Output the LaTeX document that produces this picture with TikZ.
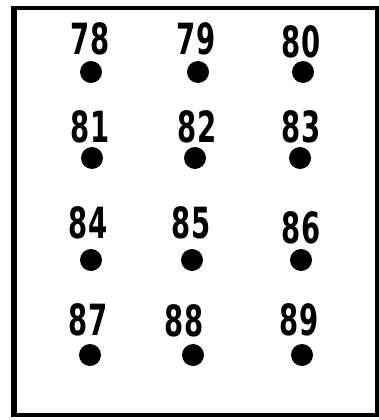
\documentclass[tikz,border=0pt]{standalone}
\usepackage{fontspec}
\setmainfont{DejaVu Sans}
\newcommand{\cnum}[1]{\scalebox{0.64}[1]{#1}}
\begin{document}
\begin{tikzpicture}[x=1pt,y=-1pt,
  dotnode/.style={circle,fill=black,inner sep=0pt,minimum size=22pt},
  numlabel/.style={anchor=base,inner sep=0pt,font=\fontsize{43}{43}\bfseries\selectfont},
  frame/.style={draw=black,line width=3.6pt}]
\useasboundingbox (0,0) rectangle (379,420);
\draw[frame] (14,8) rectangle (377,415);
\draw[line width=5.5pt] (14,6.2) -- (14,416.8);
% row 1
\node[numlabel] (l78) at (90,55) {\cnum{78}};
\node[numlabel] (l79) at (196,55) {\cnum{79}};
\node[numlabel] (l80) at (301,57) {\cnum{80}};
\node[dotnode] (d78) at (91,72) {};
\node[dotnode] (d79) at (198,72) {};
\node[dotnode] (d80) at (303,72) {};
% row 2
\node[numlabel] (l81) at (90,142) {\cnum{81}};
\node[numlabel] (l82) at (197,142) {\cnum{82}};
\node[numlabel] (l83) at (301,142) {\cnum{83}};
\node[dotnode] (d81) at (92,158) {};
\node[dotnode] (d82) at (195,158) {};
\node[dotnode] (d83) at (300,158) {};
% row 3
\node[numlabel] (l84) at (88,238) {\cnum{84}};
\node[numlabel] (l85) at (191,238) {\cnum{85}};
\node[numlabel] (l86) at (301,243) {\cnum{86}};
\node[dotnode] (d84) at (91,260) {};
\node[dotnode] (d85) at (192,260) {};
\node[dotnode] (d86) at (301,260) {};
% row 4
\node[numlabel] (l87) at (88,335) {\cnum{87}};
\node[numlabel] (l88) at (184,336) {\cnum{88}};
\node[numlabel] (l89) at (299,335) {\cnum{89}};
\node[dotnode] (d87) at (90,355) {};
\node[dotnode] (d88) at (193,355) {};
\node[dotnode] (d89) at (302,355) {};
\end{tikzpicture}
\end{document}
